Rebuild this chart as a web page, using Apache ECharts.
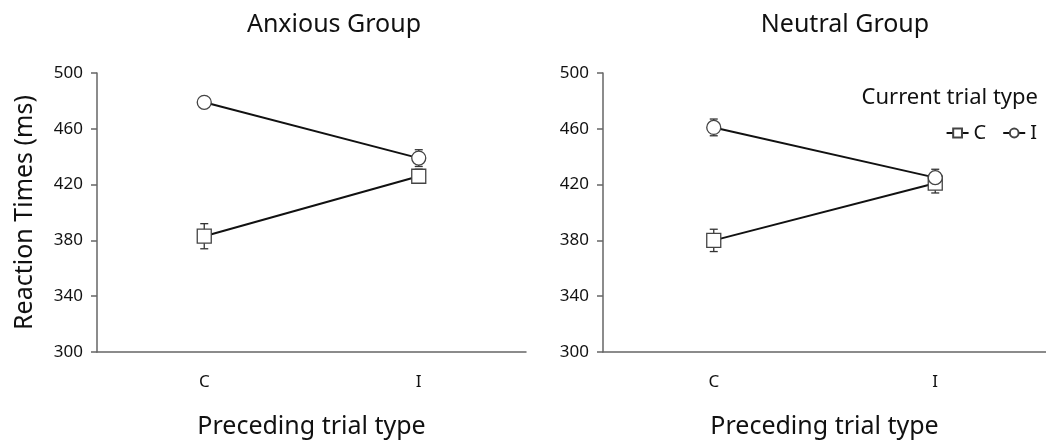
<!DOCTYPE html>
<html>
<head>
<meta charset="utf-8">
<script src="https://cdn.jsdelivr.net/npm/echarts@6/dist/echarts.min.js"></script>
<style>html,body{margin:0;padding:0;background:#fff;}#c{width:1046px;height:444px;}</style>
</head>
<body>
<div id="c"></div>
<script>
var categories = ['C', 'I'];
var yTicks = [300, 340, 380, 420, 460, 500];
var anxiousC = [383, 426];
var anxiousI = [479, 439];
var neutralC = [380, 421];
var neutralI = [461, 425];
var anxiousCErr = [9, 5];
var anxiousIErr = [3, 6];
var neutralCErr = [8, 7];
var neutralIErr = [6, 6];

var FONT = 'Noto Sans';
var chart = echarts.init(document.getElementById('c'), null, {renderer: 'canvas'});

function errData(vals, errs) {
  return vals.map(function (v, i) { return [i, v - errs[i], v + errs[i]]; });
}
function errSeries(idx, vals, errs) {
  return {
    type: 'custom', xAxisIndex: idx, yAxisIndex: idx, z: 1, silent: true,
    data: errData(vals, errs),
    renderItem: function (params, api) {
      var lo = api.coord([api.value(0), api.value(1)]);
      var hi = api.coord([api.value(0), api.value(2)]);
      var hw = 4;
      var st = {stroke: '#333', lineWidth: 1.3};
      return {type: 'group', children: [
        {type: 'line', shape: {x1: lo[0], y1: lo[1], x2: hi[0], y2: hi[1]}, style: st},
        {type: 'line', shape: {x1: lo[0] - hw, y1: lo[1], x2: lo[0] + hw, y2: lo[1]}, style: st},
        {type: 'line', shape: {x1: hi[0] - hw, y1: hi[1], x2: hi[0] + hw, y2: hi[1]}, style: st}
      ]};
    }
  };
}
function lineSeries(idx, name, vals, sym) {
  return {
    type: 'line', name: name, xAxisIndex: idx, yAxisIndex: idx, z: 3,
    data: vals, symbol: sym, symbolSize: 14,
    lineStyle: {color: '#111', width: 2},
    itemStyle: {color: '#fff', borderColor: '#444', borderWidth: 1.3},
    emphasis: {disabled: true}, animation: false
  };
}
function xAx(idx) {
  return {
    type: 'category', gridIndex: idx, data: categories, boundaryGap: true,
    axisLine: {lineStyle: {color: '#666', width: 1.5}},
    axisTick: {show: false},
    axisLabel: {color: '#111', fontFamily: FONT, fontSize: 17, margin: 22},
    name: 'Preceding trial type', nameLocation: 'middle', nameGap: 62,
    nameTextStyle: {color: '#111', fontFamily: FONT, fontSize: 25}
  };
}
function yAx(idx, withName) {
  var o = {
    type: 'value', gridIndex: idx, min: yTicks[0], max: yTicks[yTicks.length - 1], interval: 40,
    splitLine: {show: false},
    axisLine: {show: true, lineStyle: {color: '#666', width: 1.5}},
    axisTick: {show: true, length: 6, lineStyle: {color: '#666', width: 1.5}},
    axisLabel: {color: '#111', fontFamily: FONT, fontSize: 17, margin: 14}
  };
  if (withName) {
    o.name = 'Reaction Times (ms)';
    o.nameLocation = 'middle';
    o.nameGap = 60;
    o.nameTextStyle = {color: '#111', fontFamily: FONT, fontSize: 25};
  }
  return o;
}

chart.setOption({
  animation: false,
  backgroundColor: '#fff',
  title: [
    {text: 'Anxious Group', left: 329, top: 7, textAlign: 'center',
     textStyle: {fontFamily: FONT, fontSize: 25, fontWeight: 'normal', color: '#111'}},
    {text: 'Neutral Group', left: 840, top: 7, textAlign: 'center',
     textStyle: {fontFamily: FONT, fontSize: 25, fontWeight: 'normal', color: '#111'}},
    {text: 'Current trial type', right: 3, top: 82,
     textStyle: {fontFamily: FONT, fontSize: 22, fontWeight: 'normal', color: '#111'}}
  ],
  legend: {
    data: ['C', 'I'], right: 4, top: 118, itemWidth: 22, itemHeight: 11, itemGap: 16,
    textStyle: {fontFamily: FONT, fontSize: 20, color: '#111'}
  },
  grid: [
    {left: 97, top: 73, width: 429, height: 279},
    {left: 603, top: 73, width: 443, height: 279}
  ],
  xAxis: [xAx(0), xAx(1)],
  yAxis: [yAx(0, true), yAx(1, false)],
  series: [
    errSeries(0, anxiousC, anxiousCErr),
    errSeries(0, anxiousI, anxiousIErr),
    errSeries(1, neutralC, neutralCErr),
    errSeries(1, neutralI, neutralIErr),
    lineSeries(0, 'C', anxiousC, 'rect'),
    lineSeries(0, 'I', anxiousI, 'circle'),
    lineSeries(1, 'C', neutralC, 'rect'),
    lineSeries(1, 'I', neutralI, 'circle')
  ]
});
</script>
</body>
</html>
